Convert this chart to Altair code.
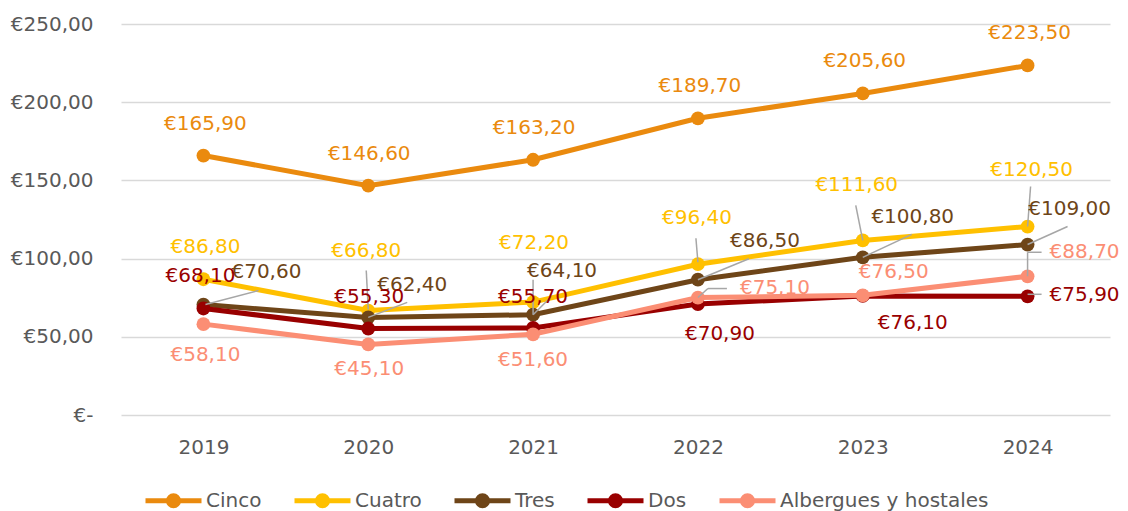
import altair as alt
import pandas as pd

years = ["2019", "2020", "2021", "2022", "2023", "2024"]
series = ["Cinco", "Cuatro", "Tres", "Dos", "Albergues y hostales"]
cinco = [165.9, 146.6, 163.2, 189.7, 205.6, 223.5]
cuatro = [86.8, 66.8, 72.2, 96.4, 111.6, 120.5]
tres = [70.6, 62.4, 64.1, 86.5, 100.8, 109.0]
dos = [68.1, 55.3, 55.7, 70.9, 76.1, 75.9]
albergues = [58.1, 45.1, 51.6, 75.1, 76.5, 88.7]
values = [cinco, cuatro, tres, dos, albergues]
colors = ["#EA8A0E", "#FFC000", "#6E4518", "#990000", "#FB8E74"]
y_ticks = [0, 50, 100, 150, 200, 250]

# data-label pixel offsets (style), per series, per year
label_dx = [
    [2, 1, 1, 2, 2, 2],
    [2, -2, 1, -1, -6, 4],
    [63, 44, 29, 67, 50, 42],
    [-3, 1, 0, 22, 50, 57],
    [2, 1, 0, 77, 31, 57],
]
label_dy = [
    [-32, -32, -32, -32, -32, -32],
    [-32, -60, -59, -46, -55, -57],
    [-33, -32, -44, -39, -40, -36],
    [-32, -32, -31, 30, 27, -1],
    [31, 25, 26, -10, -23, -24],
]
# leader lines: series, year, pixel offsets from the point (x0, y0, x1, y1)
leaders = [
    ("Tres", "2019", 2, 0, 55, -14),
    ("Tres", "2020", 0, 0, 39, -15),
    ("Cuatro", "2020", -2, -40, 0, -1),
    ("Tres", "2021", 0, -35, 0, 0),
    ("Tres", "2021", 0, 0, 17, -17),
    ("Cuatro", "2022", -2, -26, 0, -2),
    ("Tres", "2022", 0, 0, 51, -21),
    ("Albergues y hostales", "2022", 0, 0, 10, -9),
    ("Albergues y hostales", "2022", 10, -9, 29, -9),
    ("Cuatro", "2023", -7, -35, 0, 0),
    ("Tres", "2023", 0, 0, 49, -23),
    ("Cuatro", "2024", 3, -40, 0, 0),
    ("Tres", "2024", 0, 0, 40, -18),
    ("Albergues y hostales", "2024", 0, -24, 0, 0),
    ("Albergues y hostales", "2024", 0, -24, 14, -24),
    ("Dos", "2024", 0, -2, 14, -2),
]

rows = []
for si, s in enumerate(series):
    for yi, yr in enumerate(years):
        v = values[si][yi]
        rows.append({
            "series": s, "year": yr, "value": v,
            "label": "€" + f"{v:.2f}".replace(".", ","),
            "dx": label_dx[si][yi], "dy": label_dy[si][yi],
            "col": colors[si], "order": si,
        })
df = pd.DataFrame(rows)

val_lookup = {(r["series"], r["year"]): r["value"] for r in rows}
lead_df = pd.DataFrame([
    {"series": s, "year": y, "value": val_lookup[(s, y)],
     "ox0": a, "oy0": b, "ox1": c, "oy1": d}
    for s, y, a, b, c, d in leaders
])

FONT = "DejaVu Sans"
GREY = "#595959"

x_enc = alt.X("year:O", scale=alt.Scale(type="point", padding=0.5),
              axis=alt.Axis(title=None, labelAngle=0, ticks=False, domain=False,
                            labelPadding=22, labelFontSize=20, labelFont=FONT,
                            labelColor=GREY, grid=False))
y_enc = alt.Y("value:Q", scale=alt.Scale(domain=[0, 250], nice=False),
              axis=alt.Axis(title=None, values=y_ticks, ticks=False, domain=False,
                            labelPadding=28, labelFontSize=20, labelFont=FONT,
                            labelColor=GREY, gridColor="#D9D9D9", gridWidth=1.5,
                            labelExpr="datum.value == 0 ? '€-\u00a0\u00a0' : '€' + replace(format(datum.value, '.2f'), '.', ',')"))

sym_path = ("M-1,0L1,0M-0.18,0A0.18,0.18,0,1,0,0.18,0"
            "A0.18,0.18,0,1,0,-0.18,0Z")
leg = alt.Legend(title=None, orient="none", legendX=22, legendY=446,
                 direction="horizontal", symbolType=sym_path, symbolSize=3136,
                 symbolStrokeWidth=5, labelFontSize=20, labelFont=FONT,
                 labelColor=GREY, labelOffset=2, columnPadding=22, labelLimit=400)
color_enc = alt.Color("series:N", scale=alt.Scale(domain=series, range=colors),
                      sort=series, legend=leg)

base = alt.Chart(df)
layers = []
for s in series:
    sub = base.transform_filter(alt.datum.series == s)
    layers.append(sub.mark_line(strokeWidth=5).encode(x=x_enc, y=y_enc, color=color_enc))
    layers.append(sub.mark_point(filled=True, size=190, opacity=1).encode(
        x=x_enc, y=y_enc, color=color_enc))

rules = alt.Chart(lead_df).mark_rule(
    color="#A6A6A6", strokeWidth=1.5,
    xOffset=alt.expr("datum.ox0"), yOffset=alt.expr("datum.oy0"),
    x2Offset=alt.expr("datum.ox1"), y2Offset=alt.expr("datum.oy1"),
).encode(x=x_enc, y=y_enc, x2="year:O", y2="value:Q")

texts = base.mark_text(font=FONT, fontSize=20, align="center", baseline="middle",
                       dx=alt.expr("datum.dx"), dy=alt.expr("datum.dy")).encode(
    x=x_enc, y=y_enc, text="label:N", color=alt.Color("col:N", scale=None))

chart = alt.layer(*layers, rules, texts).properties(
    width=989, height=391,
    autosize=alt.AutoSizeParams(type="none"),
    padding={"left": 113, "top": 16, "right": 10, "bottom": 96},
).configure_view(stroke=None)

chart.save("out.html", embed_options={"renderer": "svg", "actions": False})
